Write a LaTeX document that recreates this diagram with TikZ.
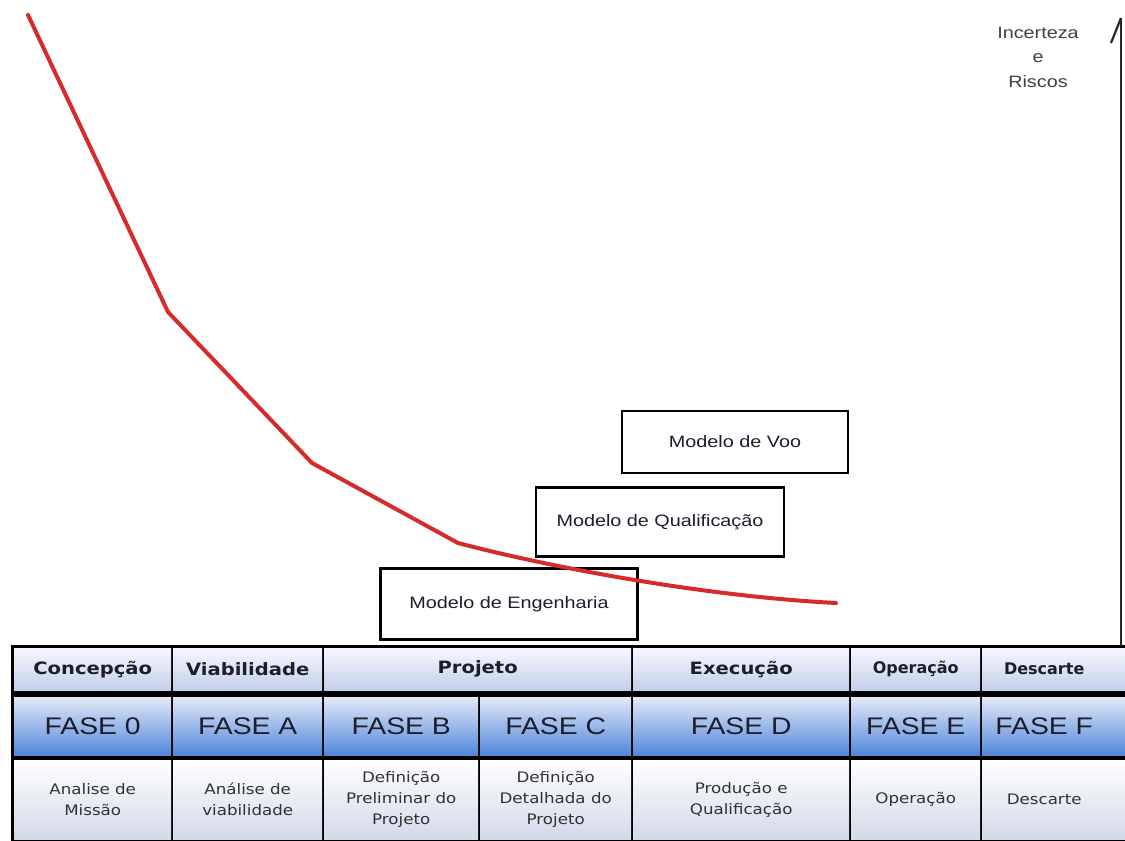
\documentclass[tikz,border=0pt]{standalone}
\usepackage{fontspec}
\setmainfont{Liberation Sans}
\newfontfamily\hdrfont[FakeStretch=1.15]{DejaVu Sans}
\newfontfamily\hdrnarrow{DejaVu Sans}
\newfontfamily\descfont[FakeStretch=1.15]{DejaVu Sans}
\newfontfamily\phasefont[FakeStretch=1.18]{Liberation Sans}
\newfontfamily\modelfont[FakeStretch=1.2]{Liberation Sans}
\usetikzlibrary{arrows.meta}
\definecolor{riskred}{HTML}{D62B2B}
\definecolor{hdrtop}{HTML}{F7F8FC}
\definecolor{hdrbot}{HTML}{C2CFEA}
\definecolor{phtop}{HTML}{E2E9F8}
\definecolor{phmid}{HTML}{B3C8EE}
\definecolor{phbot}{HTML}{5187DA}
\definecolor{dsctop}{HTML}{FFFFFF}
\definecolor{dscbot}{HTML}{D2D9E8}
\definecolor{ink}{HTML}{1C1E2C}
\definecolor{descink}{HTML}{303236}
\tikzset{
  cellbase/.style={rectangle, inner sep=0pt, anchor=north west, align=center},
  hdrcell/.style={cellbase, minimum height=42pt, top color=hdrtop, bottom color=hdrbot,
    font=\hdrfont\bfseries\fontsize{17}{20}\selectfont, text=ink},
  phasecell/.style={cellbase, minimum height=58pt, shading=axis, top color=phtop,
    middle color=phmid, bottom color=phbot,
    font=\phasefont\fontsize{24}{28}\selectfont, text=ink},
  desccell/.style={cellbase, minimum height=79pt, top color=dsctop, bottom color=dscbot,
    font=\descfont\fontsize{14.5}{21}\selectfont, text=descink},
  modelbox/.style={rectangle, draw=black, line width=2.5pt, inner sep=0pt,
    font=\modelfont\fontsize{16.5}{20}\selectfont, text=ink},
  riskcurve/.style={draw=riskred, line width=4pt, line cap=round, line join=round},
  axisline/.style={draw=black!85, line width=1.8pt}
}
\begin{document}
\begin{tikzpicture}[x=1pt,y=-1pt]
\useasboundingbox (0,0) rectangle (1125,841);
\fill[white] (0,0) rectangle (1125,841);

% table frame and row separators
\fill[black] (11,645) rectangle (1135,842);

% header row
\foreach \a/\b/\nm/\txt in {13/172/hA/Concepção, 172/323/hB/Viabilidade,
    323/632/hC/Projeto, 632/850/hD/Execução}
  \node[hdrcell, minimum width={(\b-\a-2)*1pt}] (\nm) at (\a+1,648) {\txt};
\node[hdrcell, minimum width=129pt, font=\hdrnarrow\bfseries\fontsize{16}{20}\selectfont]
  (hE) at (851,648) {Operação};
\node[hdrcell, minimum width=150pt, font=\hdrnarrow\bfseries\fontsize{16}{20}\selectfont]
  (hF) at (982,648) {\hspace*{-26pt}Descarte};

% phase row
\foreach \a/\b/\nm/\txt in {13/172/pA/FASE 0, 172/323/pB/FASE A, 323/479/pC/FASE B,
    479/632/pD/FASE C, 632/850/pE/FASE D, 850/981/pF/FASE E}
  \node[phasecell, minimum width={(\b-\a-2)*1pt}] (\nm) at (\a+1,697) {\txt};
\node[phasecell, minimum width=150pt] (pG) at (982,697) {FASE F\hspace*{26pt}};

% description row
\foreach \a/\b/\nm/\txt in {13/172/dA/{Analise de\\Missão}, 172/323/dB/{Análise de\\viabilidade},
    323/479/dC/{Definição\\Preliminar do\\Projeto}, 479/632/dD/{Definição\\Detalhada do\\Projeto},
    632/850/dE/{Produção e\\Qualificação}, 850/981/dF/{Operação}}
  \node[desccell, minimum width={(\b-\a-2)*1pt}] (\nm) at (\a+1,760) {\txt};
\node[desccell, minimum width=150pt] (dG) at (982,760) {Descarte\hspace*{26pt}};

% vertical uncertainty axis
\coordinate (axtop) at (1121,18);
\coordinate (axbot) at (1121,646);
\coordinate (axbarb) at (1111,43);
\draw[axisline] (axbot) -- (axtop);
\draw[axisline, line width=2.2pt] (axbarb) -- (axtop);

\node[font=\modelfont\fontsize{16.5}{24.5}\selectfont, text=ink!85, align=center]
  (risk) at (1038,57) {Incerteza\\e\\Riscos};

% model boxes
\node[modelbox, minimum width=226pt, minimum height=62pt] (voo) at (735,442) {Modelo de Voo};
\node[modelbox, minimum width=248pt, minimum height=69pt] (qual) at (660,522) {Modelo de Qualificação};
\node[modelbox, minimum width=257pt, minimum height=71pt] (eng) at (509,604) {Modelo de Engenharia};

% risk curve
\coordinate (c0) at (28,15);
\coordinate (c1) at (168,312);
\coordinate (c2) at (312,463);
\coordinate (c3) at (458,543);
\coordinate (c4) at (836,603);
\draw[riskcurve] (c0) -- (c1) -- (c2) -- (c3) .. controls (545,566) and (700,596) .. (c4);
\end{tikzpicture}
\end{document}
